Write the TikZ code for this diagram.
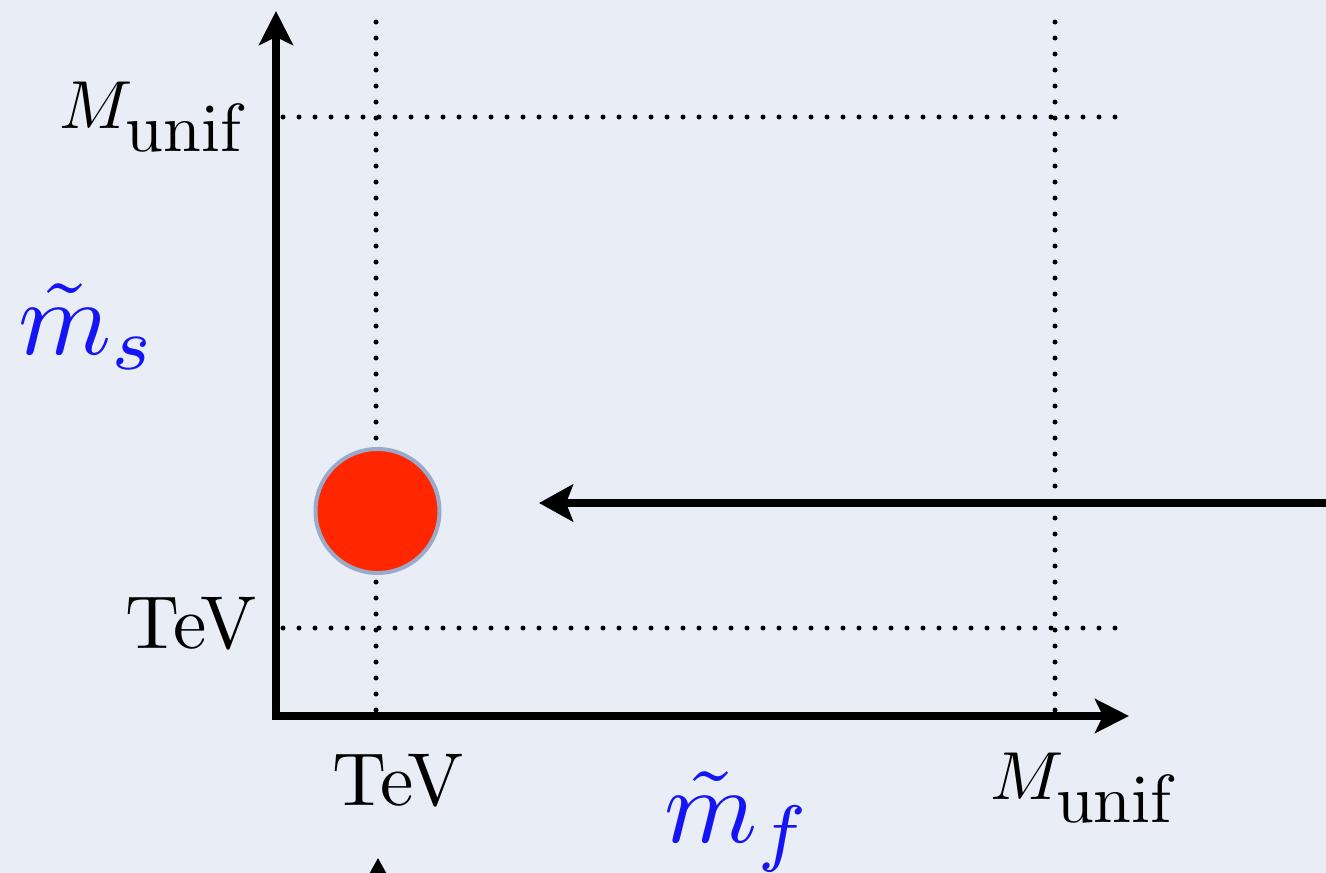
\documentclass[tikz,border=0pt]{standalone}
\usetikzlibrary{arrows.meta}
\definecolor{paper}{HTML}{E9EEF6}
\definecolor{dotred}{HTML}{FF2600}
\definecolor{dotrim}{HTML}{9AAACB}
\definecolor{lblue}{HTML}{1414F5}
\tikzset{
  axis/.style={line width=8.5pt, -{Stealth[length=34pt,width=34pt,inset=8pt]}},
  guide/.style={line width=5pt, line cap=round, dash pattern=on 0pt off 16pt},
  bigarrow/.style={line width=8pt, -{Stealth[length=34pt,width=37pt,inset=7pt]}},
  lbl/.style={inner sep=0pt, scale=7.5},
  mlbl/.style={inner sep=0pt, scale=6.8},
  blbl/.style={inner sep=0pt, text=lblue, scale=10.6},
}
\begin{document}
\begin{tikzpicture}[x=1pt,y=-1pt]
\fill[paper] (0,0) rectangle (1326,873);
\useasboundingbox (0,0) rectangle (1326,873);
% coordinates
\coordinate (O) at (276,716);
\coordinate (Ytop) at (276,11);
\coordinate (Xend) at (1129,716);
\coordinate (v1t) at (376,22);
\coordinate (v1b) at (376,711);
\coordinate (v2t) at (1055,22);
\coordinate (v2b) at (1055,711);
\coordinate (h1l) at (283,117);
\coordinate (h1r) at (1116,117);
\coordinate (h2l) at (283,628);
\coordinate (h2r) at (1116,628);
% guides
\draw[guide] (v1t) -- (v1b);
\draw[guide] (v2t) -- (v2b);
\draw[guide] (h1l) -- (h1r);
\draw[guide] (h2l) -- (h2r);
% axes
\draw[axis] ([yshift=4.25pt]O) -- (Ytop);
\draw[axis] ([xshift=-4.25pt]O) -- (Xend);
% red dot
\node[circle, fill=dotred, draw=dotrim, line width=4pt, minimum size=124pt, inner sep=0pt] (dot) at (377.5,511) {};
% big arrow
\coordinate (aR) at (1340,503);
\coordinate (aL) at (539,503);
\draw[bigarrow] (aR) -- (aL);
% bottom arrow (cut off)
\coordinate (bB) at (378,940);
\coordinate (bT) at (378,858);
\draw[bigarrow] (bB) -- (bT);
% labels
\node[mlbl, anchor=base east] (munifL) at (251,128) {$M_{\textstyle\mathrm{unif}}$};
\node[lbl, anchor=base east] (tevL) at (258,648) {TeV};
\node[lbl, anchor=base] (tevB) at (398.5,805) {TeV};
\node[mlbl, anchor=base] (munifB) at (1085,799) {$M_{\textstyle\mathrm{unif}}$};
\node[blbl, anchor=base west] (ms) at (16,354) {$\tilde{m}_s$};
\node[blbl, anchor=base west] (mf) at (662,842) {$\tilde{m}_f$};
\end{tikzpicture}
\end{document}
